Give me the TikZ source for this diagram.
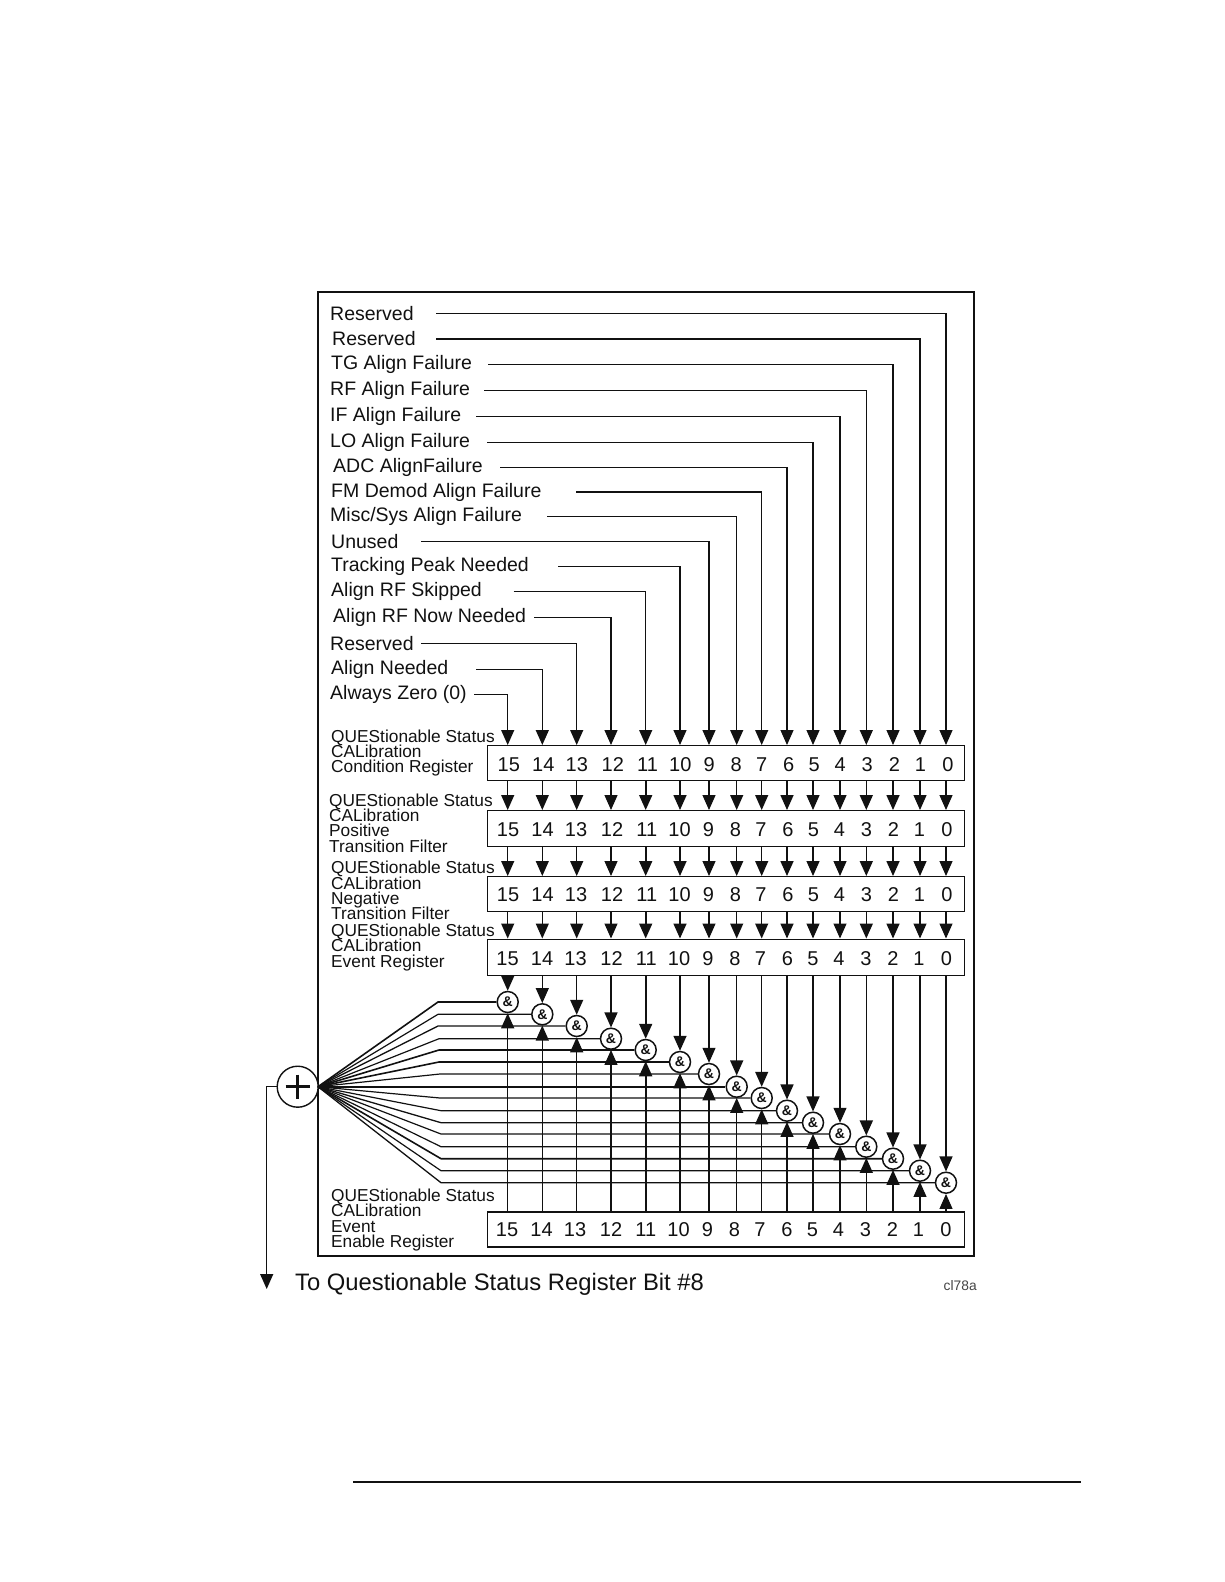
\documentclass[tikz,border=0pt]{standalone}
\usepackage{fontspec}
\setmainfont{Liberation Sans}
\usepackage{xcolor}
\usetikzlibrary{arrows.meta,positioning,calc}
\definecolor{ink}{HTML}{111111}
\definecolor{ink2}{HTML}{444444}
\newcommand{\rl}{\\[-3pt]}
\tikzset{
  sig/.style={ink,line width=1.3pt,-{Triangle[length=15pt,width=13pt]}},
  wire/.style={ink,line width=1.3pt},
  regbox/.style={draw=ink,line width=1.4pt,minimum width=477pt,inner sep=0pt},
  gate/.style={circle,draw=ink,line width=1.5pt,fill=white,minimum size=21pt,inner sep=0pt,font=\fontsize{14}{14}\selectfont\bfseries},
  sumgate/.style={circle,draw=ink,line width=1.4pt,fill=white,minimum size=41pt,inner sep=0pt},
  siglabel/.style={anchor=west,inner sep=0pt,font=\fontsize{19.5}{20}\selectfont},
  reglabel/.style={anchor=west,inner sep=0pt,align=left,font=\fontsize{17.3}{18.3}\selectfont},
  bitlabel/.style={inner sep=0pt,font=\fontsize{20}{20}\selectfont}
}
\begin{document}
\begin{tikzpicture}[x=1pt,y=-1pt,ink]
  \useasboundingbox (0,0) rectangle (1224,1582);
  \node[draw=ink,line width=1.4pt,minimum width=656pt,minimum height=964pt,inner sep=0pt] (frame) at (646,774) {};
  \node[regbox,minimum height=35pt] (r1) at (725.8,763.2) {};
  \node[regbox,minimum height=36pt] (r2) at (725.8,828.7) {};
  \node[regbox,minimum height=35pt] (r3) at (725.8,894.2) {};
  \node[regbox,minimum height=36pt] (r4) at (725.8,957.2) {};
  \node[regbox,minimum height=35pt] (r5) at (725.8,1229.4) {};
  % bit numbers, one row per register
  \foreach \r/\y/\d in {1/764.5/0.8,2/830/0,3/894.5/0,4/959/-0.5,5/1229.5/-1}
    \foreach \b/\x in {15/508,14/542.5,13/576,12/612,11/646.8,10/679.5,9/708.5,8/735.5,7/761,6/788,5/813.5,4/839.5,3/866.5,2/893.5,1/919.5,0/947}
      \node[bitlabel] (n\r-\b) at (\x+\d,\y) {\b};
  % signal names feeding the condition register
  \foreach \b/\x/\y/\tx/\sx/\name in {
    0/946/313.8/330/436/Reserved, 1/920/339/332/436/Reserved, 2/893/364.6/331/488/TG Align Failure,
    3/866.3/390.5/330/484/RF Align Failure, 4/840/416.3/330/476/IF Align Failure, 5/813/442.5/330/487/LO Align Failure,
    6/787/467.3/333/500/ADC AlignFailure, 7/761.7/492/331/576/FM Demod Align Failure, 8/736.7/516.8/330/547/{Misc/Sys Align Failure},
    9/709/541.8/331/421/Unused, 10/680/566.5/331/558/Tracking Peak Needed, 11/645.7/591.3/331/513.6/Align RF Skipped,
    12/611/617.5/333/534/Align RF Now Needed, 13/576.7/643.8/330/421/Reserved, 14/542.3/669.3/331/476/Align Needed, 15/507.7/694.5/330/474/Always Zero (0)}
  {
    \node[siglabel] (t\b) at (\tx,\y) {\name};
    \coordinate (s\b) at (\sx,\y);
    \draw[sig] (s\b) -| (\x,0 |- r1.north);
  }
  \node[reglabel] (l1) at (331,753) {QUEStionable Status\rl CALibration\rl Condition Register};
  \node[reglabel] (l2) at (329,823) {QUEStionable Status\rl CALibration\rl Positive\rl Transition Filter};
  \node[reglabel] (l3) at (331,890.7) {QUEStionable Status\rl CALibration\rl Negative\rl Transition Filter};
  \node[reglabel] (l4) at (331,947.5) {QUEStionable Status\rl CALibration\rl Event Register};
  \node[reglabel] (l5) at (331,1220) {QUEStionable Status\rl CALibration\rl Event\rl Enable Register};
  % summing junction and the and-gates
  \node[sumgate] (sum) at (297.7,1086.7) {};
  \coordinate (pa) at (285.7,1086.7);
  \coordinate (pb) at (309.7,1086.7);
  \coordinate (pc) at (297.7,1074.7);
  \coordinate (pd) at (297.7,1098.7);
  \draw[ink,line width=3pt] (pa) -- (pb) (pc) -- (pd);
  \coordinate (fan) at (318,1086.7);
  \coordinate (out) at (266.7,1289);
  \draw[sig] (sum.west) -| (out);
  \foreach \b/\x/\y/\vw/\hw/\bx in {
    15/507.7/1002/1.2/1.6/438, 14/542.3/1014.3/1.2/1.2/438, 13/576.7/1026/1.2/1.3/438, 12/611/1038.7/1.2/1.2/439,
    11/645.7/1050/1.6/1.6/439, 10/680/1062/1.6/1.6/439, 9/709/1074/1.2/1.2/440, 8/736.7/1086.7/1.3/1.6/440,
    7/761.7/1098/1.2/1.2/440, 6/787/1110.7/1.6/1.2/441, 5/813/1122.7/1.2/1.3/441, 4/840/1134/1.2/1.2/441,
    3/866.3/1146.7/1.6/1.2/441, 2/893/1158.7/1.6/1.6/441, 1/920/1170.7/1.2/1.2/441, 0/946/1182.7/1.2/1.3/441}
  {
    \node[gate] (g\b) at (\x,\y) {\&};
    \coordinate (b\b) at (\bx,\y);
    \draw[wire,line width=\hw pt] (fan) -- (b\b) -- (g\b.west);
    \foreach \r/\q in {1/2,2/3,3/4} \draw[sig,line width=\vw pt] (\x,0 |- r\r.south) -- (\x,0 |- r\q.north);
    \draw[sig,line width=\vw pt] (\x,0 |- r4.south) -- (g\b.north);
    \draw[sig,line width=\vw pt] (\x,0 |- r5.north) -- (g\b.south);
  }
  \node[anchor=west,inner sep=0pt,font=\fontsize{23.8}{24}\selectfont] (bit8) at (295,1284.5) {To Questionable Status Register Bit \#8};
  \node[anchor=west,inner sep=0pt,ink2,font=\fontsize{13.8}{14}\selectfont] (fig) at (943.5,1285.5) {cl78a};
  \coordinate (rulea) at (353,1482);
  \coordinate (ruleb) at (1081,1482);
  \draw[ink,line width=1.6pt] (rulea) -- (ruleb);
\end{tikzpicture}
\end{document}
